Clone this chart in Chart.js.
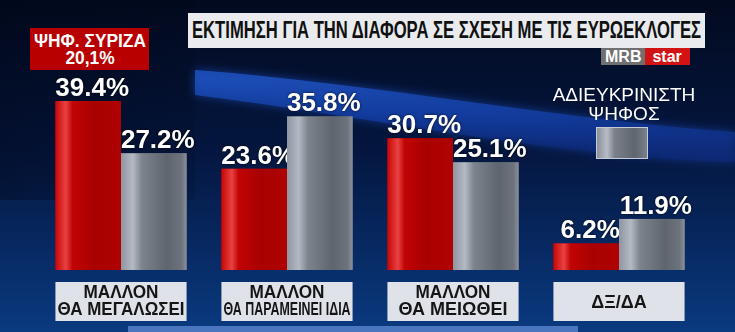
<!DOCTYPE html>
<html>
<head>
<meta charset="utf-8">
<script src="https://cdn.jsdelivr.net/npm/chart.js@4.4.1/dist/chart.umd.min.js"></script>
<style>
  body { margin: 0; width: 735px; height: 332px; overflow: hidden; background: #061a44; }
  #wrap { position: relative; width: 735px; height: 332px; }
  #chart { position: absolute; left: 0; top: 0; }
  .title {
    position: absolute; left: 188px; top: 13px; width: 517px; height: 35px;
    background: #e9ebef; overflow: hidden;
  }
  .title span, .syriza span {
    position: absolute; white-space: nowrap; transform-origin: 0 0;
  }
  .title span { left: 3px; top: 6px; color: #111; font: bold 23px "Liberation Sans", Arial, sans-serif; line-height: 23px; }
  .syriza {
    position: absolute; left: 30px; top: 28px; width: 119px; height: 42px; background: #b80000;
  }
  .syriza span { color: #fff; font: bold 19px "Liberation Sans", Arial, sans-serif; line-height: 17px; text-align: center; }
  .logo { position: absolute; top: 48px; left: 601px; height: 17px; font: bold 16px "Liberation Sans", Arial, sans-serif; line-height: 17px; color: #fff; }
  .logo span { display: inline-block; height: 17px; padding: 0 4px; }
  .logo .mrb { background: #707070; }
  .logo .star { background: #d21313; padding: 0 8px 0 7px; }
  .undec {
    position: absolute; left: 540px; top: 85px; width: 168px; color: #fff;
    font: 19px "Liberation Sans", Arial, sans-serif; line-height: 19px; text-align: center;
  }
  .undecBox {
    position: absolute; left: 596px; top: 127px; width: 50px; height: 30px; border: 1px solid #c5cad4;
    background: linear-gradient(90deg, #8a919c 0%, #b7bcc5 20%, #7b818b 35%, #5f656e 75%, #7a8089 100%);
  }
</style>
</head>
<body>
<div id="wrap">
  <canvas id="chart" width="735" height="332"></canvas>
  <div class="title"><span id="titleText">ΕΚΤΙΜΗΣΗ ΓΙΑ ΤΗΝ ΔΙΑΦΟΡΑ ΣΕ ΣΧΕΣΗ ΜΕ ΤΙΣ ΕΥΡΩΕΚΛΟΓΕΣ</span></div>
  <div class="syriza"><span id="syrizaText">ΨΗΦ. ΣΥΡΙΖΑ<br>20,1%</span></div>
  <div class="logo"><span class="mrb">MRB</span><span class="star">star</span></div>
  <div class="undec">ΑΔΙΕΥΚΡΙΝΙΣΤΗ<br>ΨΗΦΟΣ</div>
  <div class="undecBox"></div>
</div>
<script>
const categories = [
  ["ΜΑΛΛΟΝ", "ΘΑ ΜΕΓΑΛΩΣΕΙ"],
  ["ΜΑΛΛΟΝ", "ΘΑ ΠΑΡΑΜΕΙΝΕΙ ΙΔΙΑ"],
  ["ΜΑΛΛΟΝ", "ΘΑ ΜΕΙΩΘΕΙ"],
  ["ΔΞ/ΔΑ"]
];
const syrizaVoters = [39.4, 23.6, 30.7, 6.2];
const undecidedVote = [27.2, 35.8, 25.1, 11.9];

// squeeze a text span to a given width (the TV font is condensed)
function squeeze(id, w, left) {
  const el = document.getElementById(id);
  const s = w / el.getBoundingClientRect().width;
  el.style.transform = "scaleX(" + s + ")";
  if (left !== undefined) el.style.left = left + "px";
}
squeeze("titleText", 509, 4);

const sy = document.getElementById("syrizaText");
sy.style.display = "inline-block";
sy.style.top = "4px";
squeeze("syrizaText", 112, 4);

// background of the studio graphic
const backdrop = {
  id: "backdrop",
  beforeDraw(chart) {
    const ctx = chart.ctx;
    ctx.save();
    let g = ctx.createLinearGradient(0, 0, 0, 332);
    g.addColorStop(0, "#020a1f");
    g.addColorStop(0.45, "#04163f");
    g.addColorStop(1, "#0a3a80");
    ctx.fillStyle = g;
    ctx.fillRect(0, 0, 735, 332);

    // darker left panel
    g = ctx.createLinearGradient(0, 0, 195, 0);
    g.addColorStop(0, "rgba(0,5,20,0.35)");
    g.addColorStop(1, "rgba(0,5,20,0.15)");
    ctx.fillStyle = g;
    ctx.fillRect(0, 0, 195, 200);

    // blue swoosh
    ctx.beginPath();
    ctx.moveTo(195, 70);
    ctx.bezierCurveTo(380, 84, 560, 120, 735, 132);
    ctx.lineTo(735, 162);
    ctx.bezierCurveTo(560, 158, 380, 118, 195, 95);
    ctx.closePath();
    g = ctx.createLinearGradient(0, 80, 0, 150);
    g.addColorStop(0, "rgba(28,78,185,0.9)");
    g.addColorStop(0.5, "rgba(18,60,160,0.85)");
    g.addColorStop(1, "rgba(12,40,120,0.65)");
    ctx.fillStyle = g;
    ctx.shadowColor = "rgba(30,80,200,0.7)";
    ctx.shadowBlur = 10;
    ctx.fill();
    ctx.shadowBlur = 0;

    // light strip along the bottom
    ctx.fillStyle = "#4a76c0";
    ctx.fillRect(128, 326, 450, 6);
    ctx.restore();
  }
};

// bar shading, values on top, category boxes underneath
const decorate = {
  id: "decorate",
  afterDatasetsDraw(chart) {
    const ctx = chart.ctx;
    const xs = chart.scales.x;
    ctx.save();
    chart.data.datasets.forEach((ds, di) => {
      const meta = chart.getDatasetMeta(di);
      meta.data.forEach((bar, i) => {
        const left = bar.x - bar.width / 2;
        const g = ctx.createLinearGradient(left, 0, left + bar.width, 0);
        if (di === 0) {
          g.addColorStop(0, "#c80606");
          g.addColorStop(0.16, "#e84242");
          g.addColorStop(0.26, "#c20404");
          g.addColorStop(0.6, "#a80000");
          g.addColorStop(1, "#b00202");
        } else {
          g.addColorStop(0, "#8f96a1");
          g.addColorStop(0.18, "#b4bac4");
          g.addColorStop(0.32, "#7d838d");
          g.addColorStop(0.7, "#5f656e");
          g.addColorStop(0.92, "#6d737c");
          g.addColorStop(1, "#8a909a");
        }
        ctx.fillStyle = g;
        ctx.fillRect(left, bar.y, bar.width, bar.base - bar.y);

        ctx.font = "bold 26px 'Liberation Sans', Arial, sans-serif";
        ctx.textAlign = "center";
        ctx.textBaseline = "alphabetic";
        ctx.shadowColor = "rgba(0,0,0,0.8)";
        ctx.shadowBlur = 3;
        ctx.fillStyle = "#ffffff";
        ctx.fillText(ds.data[i].toFixed(1) + "%", bar.x + 4, bar.y - 5);
        ctx.shadowBlur = 0;
      });
    });

    // category label boxes
    const half = xs.width / categories.length * 0.79 / 2;
    categories.forEach((lines, i) => {
      const cx = xs.getPixelForValue(i);
      ctx.fillStyle = "#dfe3e9";
      ctx.fillRect(cx - half, 282, half * 2, 39);
      ctx.fillStyle = "#151515";
      ctx.font = "bold 18px 'Liberation Sans', Arial, sans-serif";
      ctx.textAlign = "center";
      ctx.textBaseline = "alphabetic";
      if (lines.length === 2) {
        ctx.fillText(lines[0], cx, 298, 75);
        ctx.fillText(lines[1], cx, 315, half * 2 - 4);
      } else {
        ctx.fillText(lines[0], cx, 308, half * 2 - 4);
      }
    });
    ctx.restore();
  }
};

new Chart(document.getElementById("chart"), {
  type: "bar",
  data: {
    labels: categories.map(c => c.join(" ")),
    datasets: [
      { label: "ΨΗΦ. ΣΥΡΙΖΑ", data: syrizaVoters, backgroundColor: "#b00000", borderWidth: 0 },
      { label: "ΑΔΙΕΥΚΡΙΝΙΣΤΗ ΨΗΦΟΣ", data: undecidedVote, backgroundColor: "#6d737c", borderWidth: 0 }
    ]
  },
  options: {
    responsive: false,
    animation: false,
    layout: { padding: { left: 38, right: 33, top: 12.6, bottom: 62 } },
    categoryPercentage: 0.79,
    barPercentage: 1.0,
    scales: {
      x: { display: false },
      y: { display: false, min: 0, max: 60 }
    },
    plugins: { legend: { display: false }, tooltip: { enabled: false } }
  },
  plugins: [backdrop, decorate]
});
</script>
</body>
</html>
